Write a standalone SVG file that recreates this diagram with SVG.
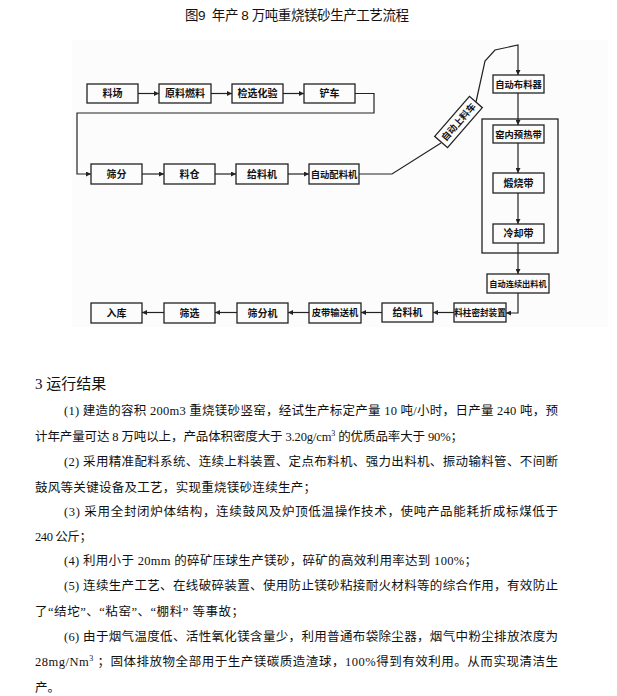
<svg xmlns="http://www.w3.org/2000/svg" width="617" height="696" viewBox="0 0 617 696">
<style>
.box{fill:#fcfcfc;stroke:#222;stroke-width:1.3}
.lbl{font-family:"Noto Sans CJK SC","Liberation Sans",sans-serif;font-size:10px;font-weight:bold;text-anchor:middle;fill:#111}
.s5{font-size:9.3px}
.s6{font-size:8.6px}
.s7{font-size:8.2px}
.ln{fill:none;stroke:#222;stroke-width:1.2}
.body{font-family:"Liberation Serif","Noto Sans CJK SC",serif;font-size:12.5px;fill:#111}
</style>
<defs>
<marker id="ah" markerWidth="5" markerHeight="5" refX="5" refY="2.5" orient="auto" markerUnits="userSpaceOnUse">
<path d="M0,0 L5,2.5 L0,5 z" fill="#222"/>
</marker>
</defs>
<rect width="617" height="696" fill="#fff"/>
<rect x="72" y="40" width="536" height="287" fill="#fcfcfc"/>
<text x="185" y="20" font-family="Liberation Sans,'Noto Sans CJK SC',sans-serif" font-size="13.5" fill="#111" textLength="224">图9&#160;&#160;年产&#160;8&#160;万吨重烧镁砂生产工艺流程</text>

<g id="connectors">
<path class="ln" d="M138,93.5H159" marker-end="url(#ah)"/>
<path class="ln" d="M211,93.5H232" marker-end="url(#ah)"/>
<path class="ln" d="M283,93.5H304" marker-end="url(#ah)"/>
<path class="ln" d="M355,93.5H374V113H77V174H91" marker-end="url(#ah)"/>
<path class="ln" d="M142,174H164" marker-end="url(#ah)"/>
<path class="ln" d="M215,174H236" marker-end="url(#ah)"/>
<path class="ln" d="M288,174H309" marker-end="url(#ah)"/>
<path class="ln" d="M359,174H392L441,143"/>
<path class="ln" d="M476,102L485,61L495,50L518,45V75" marker-end="url(#ah)"/>
<path class="ln" d="M518,93V125" marker-end="url(#ah)"/>
<path class="ln" d="M518,143V173" marker-end="url(#ah)"/>
<path class="ln" d="M518,193V224" marker-end="url(#ah)"/>
<path class="ln" d="M518,243V274" marker-end="url(#ah)"/>
<path class="ln" d="M518,293V313H506" marker-end="url(#ah)"/>
<path class="ln" d="M454,312.5H433" marker-end="url(#ah)"/>
<path class="ln" d="M382,312.5H361" marker-end="url(#ah)"/>
<path class="ln" d="M309,312.5H288" marker-end="url(#ah)"/>
<path class="ln" d="M237,312.5H215" marker-end="url(#ah)"/>
<path class="ln" d="M164,312.5H142" marker-end="url(#ah)"/>
</g>

<g id="kiln"><rect x="482" y="119" width="76" height="134" fill="none" stroke="#222" stroke-width="1.3"/></g>

<g id="n1"><rect class="box" x="87" y="84" width="51" height="19"/><text class="lbl" x="112.5" y="97">料场</text></g>
<g id="n2"><rect class="box" x="159" y="84" width="52" height="19"/><text class="lbl" x="185" y="97">原料燃料</text></g>
<g id="n3"><rect class="box" x="232" y="84" width="51" height="19"/><text class="lbl" x="257.5" y="97">检选化验</text></g>
<g id="n4"><rect class="box" x="304" y="84" width="51" height="19"/><text class="lbl" x="329.5" y="97">铲车</text></g>

<g id="n5"><rect class="box" x="91" y="164" width="51" height="20"/><text class="lbl" x="116.5" y="177.5">筛分</text></g>
<g id="n6"><rect class="box" x="164" y="164" width="51" height="20"/><text class="lbl" x="189.5" y="177.5">料仓</text></g>
<g id="n7"><rect class="box" x="236" y="164" width="52" height="20"/><text class="lbl" x="262" y="177.5">给料机</text></g>
<g id="n8"><rect class="box" x="309" y="164" width="50" height="20"/><text class="lbl s5" x="334" y="177.5">自动配料机</text></g>

<g id="n9" transform="translate(458.5,122) rotate(-49)"><rect class="box" x="-26.5" y="-8.5" width="53" height="17"/><text class="lbl s5" x="0" y="3.3">自动上料车</text></g>

<g id="n10"><rect class="box" x="493" y="75" width="51" height="18"/><text class="lbl s5" x="518.5" y="87.5">自动布料器</text></g>
<g id="n11"><rect class="box" x="493" y="125" width="51" height="18"/><text class="lbl s5" x="518.5" y="137.5">窑内预热带</text></g>
<g id="n12"><rect class="box" x="493" y="173" width="51" height="20"/><text class="lbl" x="518.5" y="186.5">煅烧带</text></g>
<g id="n13"><rect class="box" x="493" y="224" width="51" height="19"/><text class="lbl" x="518.5" y="237">冷却带</text></g>
<g id="n14"><rect class="box" x="487" y="274" width="62" height="19"/><text class="lbl s7" x="518" y="286.7">自动连续出料机</text></g>

<g id="n15"><rect class="box" x="454" y="303" width="52" height="19"/><text class="lbl s6" x="480" y="315.8">料柱密封装置</text></g>
<g id="n16"><rect class="box" x="382" y="303" width="51" height="19"/><text class="lbl" x="407.5" y="316">给料机</text></g>
<g id="n17"><rect class="box" x="309" y="303" width="52" height="20"/><text class="lbl s5" x="335" y="316.3">皮带输送机</text></g>
<g id="n18"><rect class="box" x="237" y="303" width="51" height="20"/><text class="lbl" x="262.5" y="316.5">筛分机</text></g>
<g id="n19"><rect class="box" x="164" y="303" width="51" height="20"/><text class="lbl" x="189.5" y="316.5">筛选</text></g>
<g id="n20"><rect class="box" x="91" y="303" width="51" height="20"/><text class="lbl" x="116.5" y="316.5">入库</text></g>

<g id="text">
<text x="35" y="389" font-family="Liberation Serif,'Noto Sans CJK SC',serif" font-size="15" fill="#111">3 运行结果</text>
<text class="body" x="64" y="415" textLength="494">(1) 建造的容积 200m3 重烧镁砂竖窑，经试生产标定产量 10 吨/小时，日产量 240 吨，预</text>
<text class="body" x="35" y="441" textLength="428">计年产量可达 8 万吨以上，产品体积密度大于 3.20g/cm<tspan font-size="8" dy="-5">3</tspan><tspan dy="5"> 的优质品率大于 90%；</tspan></text>
<text class="body" x="64" y="466" textLength="494">(2) 采用精准配料系统、连续上料装置、定点布料机、强力出料机、振动输料管、不间断</text>
<text class="body" x="35" y="492" textLength="281">鼓风等关键设备及工艺，实现重烧镁砂连续生产；</text>
<text class="body" x="64" y="516" textLength="494">(3) 采用全封闭炉体结构，连续鼓风及炉顶低温操作技术，使吨产品能耗折成标煤低于</text>
<text class="body" x="35" y="541" textLength="57">240 公斤；</text>
<text class="body" x="64" y="565" textLength="413">(4) 利用小于 20mm 的碎矿压球生产镁砂，碎矿的高效利用率达到 100%；</text>
<text class="body" x="64" y="590" textLength="494">(5) 连续生产工艺、在线破碎装置、使用防止镁砂粘接耐火材料等的综合作用，有效防止</text>
<text class="body" x="35" y="616" textLength="209">了“结坨”、“粘窑”、“棚料” 等事故；</text>
<text class="body" x="64" y="641" textLength="494">(6) 由于烟气温度低、活性氧化镁含量少，利用普通布袋除尘器，烟气中粉尘排放浓度为</text>
<text class="body" x="35" y="666" textLength="523">28mg/Nm<tspan font-size="8" dy="-5">3</tspan><tspan dy="5"> ；固体排放物全部用于生产镁碳质造渣球，100%得到有效利用。从而实现清洁生</tspan></text>
<text class="body" x="35" y="692">产。</text>
</g>
</svg>
